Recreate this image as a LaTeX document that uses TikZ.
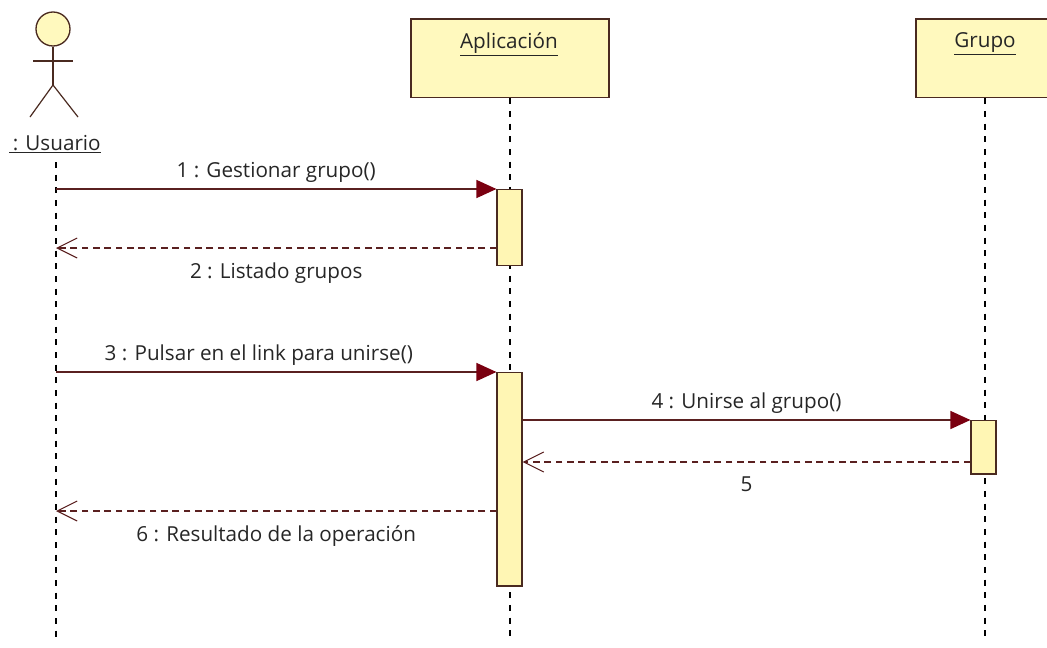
\documentclass[tikz,border=0pt]{standalone}
\usepackage{fontspec}
\setmainfont{Open Sans}
\usetikzlibrary{arrows.meta,positioning}
\definecolor{boxfill}{HTML}{FFF9BE}
\definecolor{actfill}{HTML}{FFF6B4}
\definecolor{linecol}{HTML}{4A2A20}
\definecolor{msgcol}{HTML}{5A2020}
\definecolor{tipcol}{HTML}{7A0010}
\tikzset{
lifebox/.style={draw=linecol, line width=1.2pt, fill=boxfill, minimum width=148.5pt, minimum height=59pt, inner sep=0pt, anchor=north}, % the top boxes
actbox/.style={draw=linecol, line width=1.1pt, fill=actfill, minimum width=18.5pt, inner sep=0pt, anchor=north},
life/.style={black, line width=1.1pt, dash pattern=on 4.5pt off 5pt},
msg/.style={msgcol, line width=1.1pt, -{Triangle[length=15pt,width=13.5pt,fill=tipcol,color=tipcol]}},
ret/.style={msgcol, line width=0.8pt, dash pattern=on 5pt off 3.5pt, -{Straight Barb[length=15pt,width=15pt]}},
lbl/.style={text=black!85, font=\fontsize{15.5}{18}\selectfont, inner sep=0pt},
}
\begin{document}
\begin{tikzpicture}[x=0.75pt,y=-0.75pt]
\useasboundingbox (0,0) rectangle (1047,647);
% actor
\node[circle, draw=linecol, line width=1pt, fill=boxfill, minimum size=25.5pt, inner sep=0pt] (head) at (53,29) {};
\coordinate (hip) at (53,85);
\coordinate (armL) at (33,61);
\coordinate (armR) at (73,61);
\coordinate (footL) at (30,117);
\coordinate (footR) at (78,117);
\draw[linecol, line width=0.9pt] (head) -- (hip);
\draw[linecol, line width=0.9pt] (armL) -- (armR);
\draw[linecol, line width=0.9pt] (footL) -- (hip) -- (footR);
\node[lbl] (usuario) at (55,144) {\underline{\,: Usuario}};
% top boxes
\node[lifebox] (aplic) at (510,18) {};
\node[lifebox, minimum width=103.5pt] (grupo) at (985,18) {};
\node[lbl] (aplicLbl) at (509,44) {\underline{Aplicación}};
\node[lbl] (grupoLbl) at (985,44) {\underline{Grupo}};
\coordinate (usuarioEnd) at (56,640);
\coordinate (aplicEnd) at (510,640);
\coordinate (grupoEnd) at (985,640);
\coordinate (usuarioTop) at (56,162);
\draw[life] (usuarioTop) -- (usuarioEnd);
\draw[life] (aplic) -- (aplicEnd);
\draw[life] (grupo) -- (grupoEnd);
% activations
\node[actbox, minimum height=57pt] (act1) at (509.5,189) {};
\node[actbox, minimum height=160pt] (act2) at (509.5,372) {};
\node[actbox, minimum height=40pt] (act3) at (983.5,420) {};
% message ends
\coordinate (m1) at (56,189);
\coordinate (m2) at (56,248);
\coordinate (m2b) at (act1.west |- m2);
\coordinate (m3) at (56,372);
\coordinate (m5) at (act2.east |- 0,462);
\coordinate (m5b) at (act3.west |- 0,462);
\coordinate (m6) at (56,511);
\coordinate (m6b) at (act2.west |- m6);
\draw[msg] (m1) -- node[lbl, above=4pt] {1 : Gestionar grupo()} (act1.north west);
\draw[ret] (m2b) -- node[lbl, below=10.5pt] {2 : Listado grupos} (m2);
\draw[msg] (m3) -- node[lbl, above=4pt, xshift=-13pt] {3 : Pulsar en el link para unirse()} (act2.north west);
\draw[msg] (act2.east |- act3.north west) -- node[lbl, above=4pt] {4 : Unirse al grupo()} (act3.north west);
\draw[ret] (m5b) -- node[lbl, below=10.5pt] {5} (m5);
\draw[ret] (m6b) -- node[lbl, below=10.5pt] {6 : Resultado de la operación} (m6);
\end{tikzpicture}
\end{document}
